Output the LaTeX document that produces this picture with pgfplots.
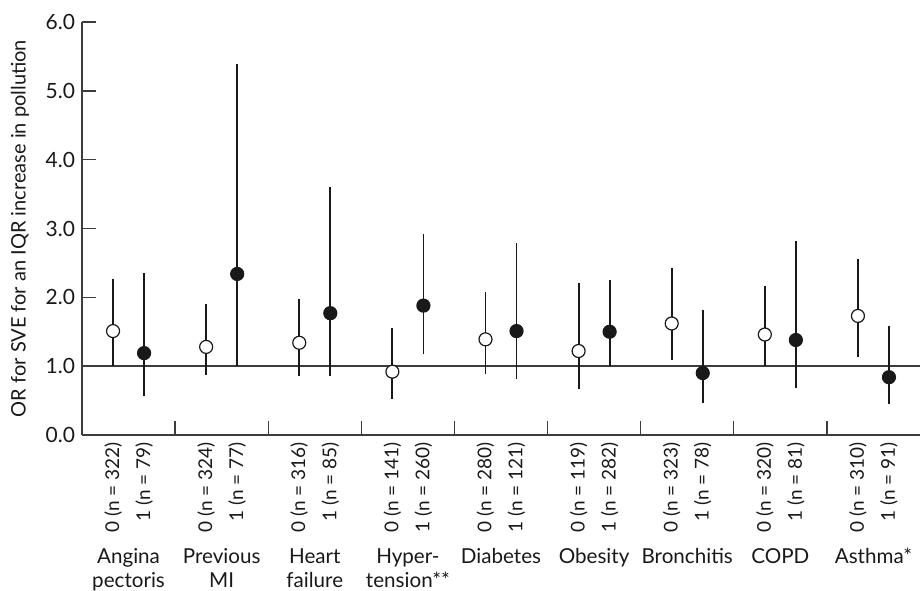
\documentclass[border=0pt]{standalone}
\usepackage{fontspec}
\setmainfont{Lato}
\usepackage{pgfplots}
\pgfplotsset{compat=1.18}
\usepackage{pgfplotstable}
\definecolor{ink}{RGB}{25,25,25}
\definecolor{axisgray}{RGB}{60,60,60}

% OR with 95% CI, condition absent (0) / present (1)
\pgfplotstableread{
x   y    lo   hi
1  1.51 1.00 2.27
4  1.28 0.87 1.90
7  1.34 0.85 1.97
10 0.92 0.52 1.56
13 1.39 0.88 2.08
16 1.22 0.67 2.21
19 1.62 1.09 2.43
22 1.46 1.00 2.16
25 1.73 1.14 2.56
}\absent
\pgfplotstableread{
x   y    lo   hi
2  1.19 0.57 2.35
5  2.34 1.00 5.39
8  1.77 0.85 3.60
11 1.88 1.18 2.92
14 1.51 0.81 2.79
17 1.50 1.00 2.25
20 0.90 0.46 1.81
23 1.38 0.68 2.82
26 0.84 0.45 1.58
}\present

\begin{document}
\begin{tikzpicture}
\useasboundingbox (-41pt,-77.5pt) rectangle (419pt,217.5pt);
\begin{axis}[
  scale only axis, width=419pt, height=206.5pt,
  xmin=0, xmax=27, ymin=0, ymax=6,
  clip=false,
  axis x line=bottom, axis y line=left,
  axis line style={-, axisgray, line width=0.8pt},
  tick align=inside, major tick length=7pt,
  tick style={axisgray, line width=0.7pt},
  ytick={0,1,...,6},
  /pgf/number format/.cd, fixed, fixed zerofill, precision=1, assume math mode=true,
  /pgfplots/.cd,
  yticklabel style={font=\fontsize{10.5}{12}\selectfont, text=ink},
  xtick={3,6,...,24}, xticklabels={},
  extra x ticks={1,2,4,5,7,8,10,11,13,14,16,17,19,20,22,23,25,26},
  extra x tick labels={0 (n = 322),1 (n = 79),0 (n = 324),1 (n = 77),0 (n = 316),1 (n = 85),
    0 (n = 141),1 (n = 260),0 (n = 280),1 (n = 121),0 (n = 119),1 (n = 282),
    0 (n = 323),1 (n = 78),0 (n = 320),1 (n = 81),0 (n = 310),1 (n = 91)},
  extra x tick style={major tick length=0pt,
    tick label style={rotate=90, anchor=east, font=\fontsize{9.5}{11}\selectfont, text=ink}},
  ylabel={OR for SVE for an IQR increase in pollution},
  ylabel style={at={(axis description cs:-0.074,0.5)}, anchor=center,
    font=\fontsize{10}{12}\selectfont, text=ink},
]
\addplot[axisgray, line width=0.7pt, forget plot] coordinates {(0,1) (27,1)};

\addplot[ink, only marks, mark=none, forget plot,
  error bars/.cd, y dir=both, y explicit, error mark=none,
  error bar style={ink, line width=0.9pt}]
  table[x=x, y=y, y error plus expr=\thisrow{hi}-\thisrow{y},
        y error minus expr=\thisrow{y}-\thisrow{lo}] {\absent};
\addplot[ink, only marks, mark=none, forget plot,
  error bars/.cd, y dir=both, y explicit, error mark=none,
  error bar style={ink, line width=0.9pt}]
  table[x=x, y=y, y error plus expr=\thisrow{hi}-\thisrow{y},
        y error minus expr=\thisrow{y}-\thisrow{lo}] {\present};

\addplot[only marks, mark=*, mark size=3.25pt,
  mark options={draw=ink, fill=white, line width=0.6pt}] table[x=x, y=y] {\absent};
\addplot[only marks, mark=*, mark size=3.25pt,
  mark options={draw=ink, fill=ink, line width=0.6pt}] table[x=x, y=y] {\present};

\begin{scope}[every node/.style={anchor=north, align=center, inner sep=0pt,
    font=\fontsize{10.3}{12.2}\selectfont, text=ink}]
\node[yshift=-56.5pt] at (axis cs:1.5,0) {Angina\\pectoris};
\node[yshift=-56.5pt] at (axis cs:4.5,0) {Previous\\MI};
\node[yshift=-56.5pt] at (axis cs:7.5,0) {Heart\\failure};
\node[yshift=-56.5pt] at (axis cs:10.5,0) {Hyper-\\tension**};
\node[yshift=-56.5pt] at (axis cs:13.5,0) {Diabetes};
\node[yshift=-56.5pt] at (axis cs:16.5,0) {Obesity};
\node[yshift=-56.5pt] at (axis cs:19.5,0) {Bronchitis};
\node[yshift=-56.5pt] at (axis cs:22.5,0) {COPD};
\node[yshift=-56.5pt] at (axis cs:25.5,0) {Asthma*};
\end{scope}
\end{axis}
\end{tikzpicture}
\end{document}
